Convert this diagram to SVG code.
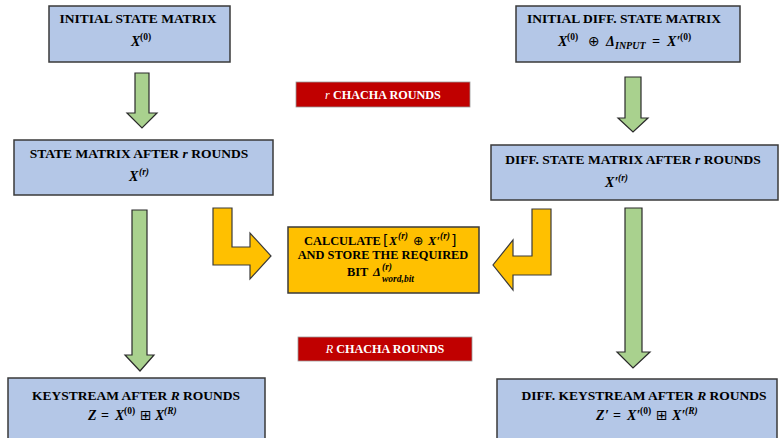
<svg xmlns="http://www.w3.org/2000/svg" width="779" height="438" viewBox="0 0 779 438">
<style>
.box{fill:#B4C7E7;stroke:#3a3a3a;stroke-width:1.5}
.obox{fill:#FFC000;stroke:#3a3a3a;stroke-width:1.5}
.red{fill:#C00000;stroke:#9a9a9a;stroke-width:0.8}
.garrow{fill:#A9D18E;stroke:#2a2a2a;stroke-width:1.2;stroke-linejoin:miter}
.oarrow{fill:#FFC000;stroke:#3a3a3a;stroke-width:1.2;stroke-linejoin:miter}
text{font-family:"Liberation Serif","DejaVu Serif",serif;font-weight:bold;font-size:13.5px;fill:#000;text-anchor:middle}
.m{font-style:italic;font-size:14px;text-anchor:start}
.sup{font-size:9.5px;font-style:normal}
.supi{font-size:9.5px;font-style:italic}
.o{font-size:12.4px}
.ol{font-size:12.4px;text-anchor:start}
.w{fill:#fff;font-size:12.2px}
.sym{font-family:"DejaVu Sans","Liberation Serif",sans-serif;font-style:normal;font-weight:normal}
</style>

<g id="connectors">
  <polygon class="garrow" points="135,73 149,73 149,113 157,113 142,128 127,113 135,113"/>
  <polygon class="garrow" points="625,77 641,77 641,118 648,118 633,132 618,118 625,118"/>
  <polygon class="garrow" points="132,210 147,210 147,355 154,355 140,371 125,355 132,355"/>
  <polygon class="garrow" points="625,208 642,208 642,352 650,352 633,368 617,352 625,352"/>
  <polygon class="oarrow" points="213,208 232,208 232,247 250,247 250,233 271,256 250,279 250,265 213,265"/>
  <polygon class="oarrow" points="551,209 532,209 532,256 513,256 513,240 493,265 513,290 513,275 551,275"/>
</g>

<g id="initial-state">
  <rect class="box" x="49" y="6" width="181" height="56"/>
  <text x="138" y="23">INITIAL STATE MATRIX</text>
  <text class="m"><tspan x="131" y="46">X</tspan><tspan class="sup" x="140" y="40">(0)</tspan></text>
</g>

<g id="initial-diff-state">
  <rect class="box" x="516" y="6" width="224" height="56"/>
  <text x="624" y="23">INITIAL DIFF. STATE MATRIX</text>
  <text class="m"><tspan x="558" y="46">X</tspan><tspan class="sup" x="567" y="40">(0)</tspan><tspan class="sym" x="588" y="46">⊕</tspan><tspan x="606" y="46">Δ</tspan><tspan font-size="10" x="615" y="49">INPUT</tspan><tspan x="652" y="46">=</tspan><tspan x="667" y="46">X</tspan><tspan x="676.5" y="46">′</tspan><tspan class="sup" x="680" y="40">(0)</tspan></text>
</g>

<g id="r-rounds-label">
  <rect class="red" x="296" y="82" width="174" height="25"/>
  <text x="383" y="99" class="w"><tspan font-style="italic" font-weight="normal">r</tspan> CHACHA ROUNDS</text>
</g>

<g id="state-after-r">
  <rect class="box" x="14" y="140" width="259" height="55"/>
  <text x="139" y="158">STATE MATRIX AFTER <tspan font-style="italic">r</tspan> ROUNDS</text>
  <text class="m"><tspan x="129" y="181">X</tspan><tspan class="supi" x="139" y="175">(r)</tspan></text>
</g>

<g id="diff-state-after-r">
  <rect class="box" x="491" y="145" width="287" height="55"/>
  <text x="633" y="164">DIFF. STATE MATRIX AFTER <tspan font-style="italic">r</tspan> ROUNDS</text>
  <text class="m"><tspan x="605" y="187">X</tspan><tspan x="614.5" y="187">′</tspan><tspan class="supi" x="618" y="181">(r)</tspan></text>
</g>

<g id="calculate">
  <rect class="obox" x="288" y="227" width="191" height="66"/>
  <text class="ol"><tspan x="304" y="245">CALCULATE</tspan><tspan class="sym" font-size="14" x="383" y="245">[</tspan><tspan font-style="italic" x="389" y="245">X</tspan><tspan class="supi" font-size="9" x="398" y="239">(r)</tspan><tspan class="sym" x="413" y="245">⊕</tspan><tspan font-style="italic" x="428" y="245">X</tspan><tspan font-style="italic" x="436.5" y="245">′</tspan><tspan class="supi" font-size="9" x="440" y="239">(r)</tspan><tspan class="sym" font-size="14" x="451" y="245">]</tspan></text>
  <text class="o" x="383" y="259">AND STORE THE REQUIRED</text>
  <text class="ol"><tspan x="347" y="276">BIT</tspan><tspan font-style="italic" x="373" y="276">Δ</tspan><tspan class="supi" font-size="9" x="382" y="270">(r)</tspan><tspan class="supi" font-size="9" x="382" y="282">word,bit</tspan></text>
</g>

<g id="R-rounds-label">
  <rect class="red" x="298" y="337" width="174" height="24"/>
  <text x="385" y="353" class="w"><tspan font-style="italic" font-weight="normal">R</tspan> CHACHA ROUNDS</text>
</g>

<g id="keystream">
  <rect class="box" x="8" y="378" width="257" height="62"/>
  <text x="136" y="400">KEYSTREAM AFTER <tspan font-style="italic">R</tspan> ROUNDS</text>
  <text class="m"><tspan x="88" y="420">Z</tspan><tspan font-style="normal" x="101" y="420">=</tspan><tspan x="115" y="420">X</tspan><tspan class="sup" x="124" y="414">(0)</tspan><tspan class="sym" x="140" y="420">⊞</tspan><tspan x="155" y="420">X</tspan><tspan class="supi" x="164" y="414">(R)</tspan></text>
</g>

<g id="diff-keystream">
  <rect class="box" x="497" y="379" width="280" height="61"/>
  <text x="644" y="400">DIFF. KEYSTREAM AFTER <tspan font-style="italic">R</tspan> ROUNDS</text>
  <text class="m"><tspan x="596" y="420">Z</tspan><tspan x="605" y="420">′</tspan><tspan font-style="normal" x="613" y="420">=</tspan><tspan x="627" y="420">X</tspan><tspan x="636.5" y="420">′</tspan><tspan class="sup" x="640" y="414">(0)</tspan><tspan class="sym" x="656" y="420">⊞</tspan><tspan x="672" y="420">X</tspan><tspan x="681.5" y="420">′</tspan><tspan class="supi" x="685" y="414">(R)</tspan></text>
</g>
</svg>
